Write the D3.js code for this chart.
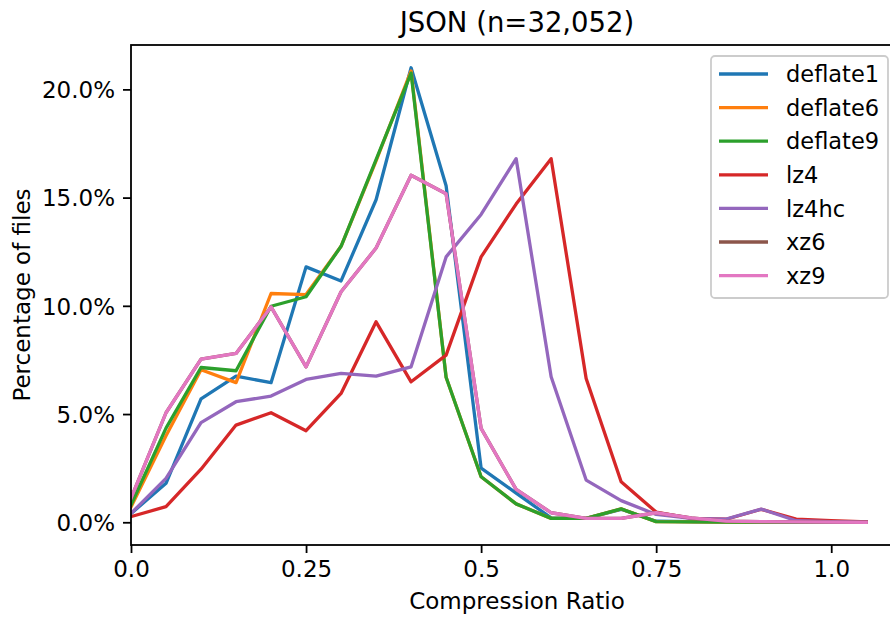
<!DOCTYPE html>
<html>
<head>
<meta charset="utf-8">
<script src="https://cdn.jsdelivr.net/npm/d3@7"></script>
<style>
  body { margin: 0; background: #fff; }
  text { font-family: "DejaVu Sans", sans-serif; fill: #000; }
</style>
</head>
<body>
<div id="chart"></div>
<script>
// compression ratio buckets
const ratios = [0, 0.05, 0.1, 0.15, 0.2, 0.25, 0.3, 0.35, 0.4, 0.45, 0.5, 0.55, 0.6, 0.65, 0.7, 0.75, 0.8, 0.85, 0.9, 0.95, 1.0, 1.05];

const deflate1 = [0.4, 1.8, 5.7, 6.75, 6.45, 11.8, 11.15, 14.9, 21.0, 15.55, 2.5, 1.35, 0.2, 0.18, 0.6, 0.05, 0.03, 0.02, 0.01, 0.01, 0, 0];
const deflate6 = [0.7, 4.0, 7.05, 6.45, 10.57, 10.52, 12.75, 16.7, 20.85, 6.7, 2.1, 0.85, 0.18, 0.18, 0.62, 0.03, 0.02, 0.01, 0.01, 0, 0, 0];
const deflate9 = [0.8, 4.35, 7.15, 7.0, 9.98, 10.42, 12.75, 16.75, 20.75, 6.7, 2.1, 0.85, 0.18, 0.18, 0.62, 0.03, 0.02, 0.01, 0.01, 0, 0, 0];
const lz4 = [0.26, 0.72, 2.45, 4.49, 5.06, 4.23, 5.95, 9.26, 6.49, 7.72, 12.26, 14.7, 16.8, 6.64, 1.87, 0.47, 0.18, 0.14, 0.6, 0.15, 0.07, 0.02];
const lz4hc = [0.41, 2.03, 4.6, 5.57, 5.83, 6.6, 6.88, 6.75, 7.18, 12.26, 14.22, 16.8, 6.72, 1.95, 1.0, 0.36, 0.18, 0.15, 0.61, 0.07, 0.03, 0.01];
const xz6 = [1.1, 5.06, 7.54, 7.8, 9.95, 7.18, 10.65, 12.67, 16.03, 15.18, 4.34, 1.52, 0.44, 0.18, 0.18, 0.44, 0.2, 0.05, 0.03, 0.02, 0.01, 0];
const xz9 = [1.1, 5.06, 7.54, 7.8, 9.95, 7.18, 10.65, 12.67, 16.03, 15.18, 4.34, 1.52, 0.44, 0.18, 0.18, 0.44, 0.2, 0.05, 0.03, 0.02, 0.01, 0];

const seriesNames = ["deflate1", "deflate6", "deflate9", "lz4", "lz4hc", "xz6", "xz9"];
const seriesValues = [deflate1, deflate6, deflate9, lz4, lz4hc, xz6, xz9];
const colors = ["#1f77b4", "#ff7f0e", "#2ca02c", "#d62728", "#9467bd", "#8c564b", "#e377c2"];

const xTicks = [0, 0.25, 0.5, 0.75, 1.0];
const xTickLabels = ["0.0", "0.25", "0.5", "0.75", "1.0"];
const yTicks = [0, 5, 10, 15, 20];

const width = 890, height = 617;
const plot = {left: 131, top: 45, right: 903, bottom: 545};

const svg = d3.select("#chart")
  .append("svg")
    .attr("width", width)
    .attr("height", height);

const x = d3.scaleLinear().domain([0, 1.1025]).range([plot.left, plot.right]);
const y = d3.scaleLinear().domain([-1.05, 22.05]).range([plot.bottom, plot.top]);

// clip for lines
svg.append("clipPath")
    .attr("id", "plot-clip")
  .append("rect")
    .attr("x", plot.left)
    .attr("y", plot.top)
    .attr("width", plot.right - plot.left)
    .attr("height", plot.bottom - plot.top);

const line = d3.line()
  .x((d, i) => x(ratios[i]))
  .y(d => y(d));

svg.append("g")
    .attr("clip-path", "url(#plot-clip)")
  .selectAll("path")
  .data(seriesValues)
  .enter()
  .append("path")
    .attr("d", d => line(d))
    .attr("fill", "none")
    .attr("stroke", (d, i) => colors[i])
    .attr("stroke-width", 3.3)
    .attr("stroke-linejoin", "round")
    .attr("stroke-linecap", "square");

// axes (matplotlib look)
const xAxis = d3.axisBottom(x)
  .tickValues(xTicks)
  .tickFormat((d, i) => xTickLabels[i])
  .tickSize(8)
  .tickPadding(8);
const yAxis = d3.axisLeft(y)
  .tickValues(yTicks)
  .tickFormat(d => d.toFixed(1) + "%")
  .tickSize(8)
  .tickPadding(8);

const gx = svg.append("g")
    .attr("transform", `translate(0,${plot.bottom})`)
    .call(xAxis);
const gy = svg.append("g")
    .attr("transform", `translate(${plot.left},0)`)
    .call(yAxis);
[gx, gy].forEach(g => {
  g.select(".domain").remove();
  g.selectAll(".tick line").attr("stroke", "#000").attr("stroke-width", 1.8);
  g.selectAll(".tick text")
    .attr("font-family", "DejaVu Sans")
    .attr("font-size", 23)
    .attr("fill", "#000");
});
gx.selectAll(".tick text").attr("dy", "0.71em");
gy.selectAll(".tick text").attr("dy", "0.36em");

// spines
svg.append("rect")
    .attr("x", plot.left)
    .attr("y", plot.top)
    .attr("width", plot.right - plot.left)
    .attr("height", plot.bottom - plot.top)
    .attr("fill", "none")
    .attr("stroke", "#000")
    .attr("stroke-width", 1.8);

// title and labels
svg.append("text")
    .attr("x", (plot.left + plot.right) / 2)
    .attr("y", 32)
    .attr("text-anchor", "middle")
    .attr("font-size", 27.5)
    .text("JSON (n=32,052)");

svg.append("text")
    .attr("x", (plot.left + plot.right) / 2)
    .attr("y", 609)
    .attr("text-anchor", "middle")
    .attr("font-size", 23)
    .text("Compression Ratio");

svg.append("text")
    .attr("transform", `translate(30,${(plot.top + plot.bottom) / 2}) rotate(-90)`)
    .attr("text-anchor", "middle")
    .attr("font-size", 23)
    .text("Percentage of files");

// legend
const legend = svg.append("g");
legend.append("rect")
    .attr("x", 711)
    .attr("y", 56)
    .attr("width", 177)
    .attr("height", 242)
    .attr("rx", 4)
    .attr("fill", "#fff")
    .attr("fill-opacity", 0.8)
    .attr("stroke", "#cccccc")
    .attr("stroke-width", 1.8);

const rows = legend.selectAll("g.row")
  .data(seriesNames)
  .enter()
  .append("g")
    .attr("transform", (d, i) => `translate(0,${74 + i * 33.6})`);
rows.append("line")
    .attr("x1", 719)
    .attr("x2", 768)
    .attr("stroke", (d, i) => colors[i])
    .attr("stroke-width", 3.3);
rows.append("text")
    .attr("x", 786)
    .attr("dy", "0.36em")
    .attr("font-size", 22.5)
    .text(d => d);
</script>
</body>
</html>
